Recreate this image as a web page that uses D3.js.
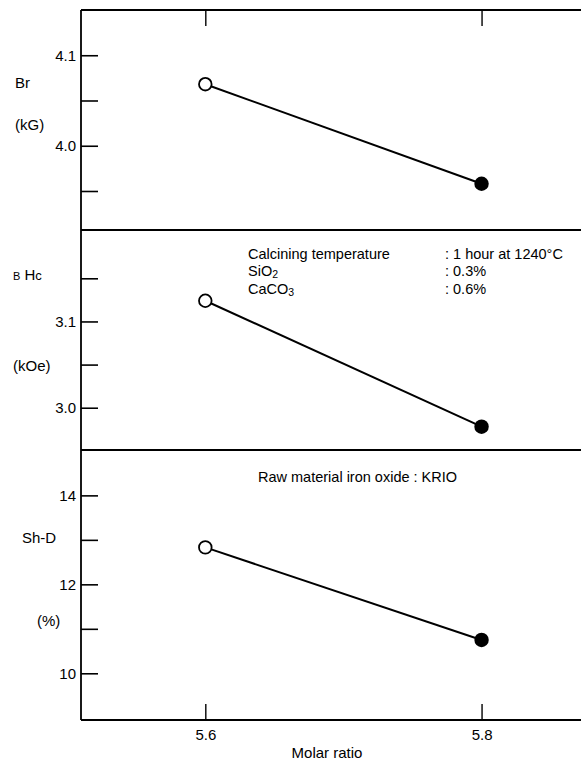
<!DOCTYPE html>
<html><head><meta charset="utf-8">
<script src="https://cdn.jsdelivr.net/npm/d3@7"></script>
<style>
body{margin:0;background:#fff;}
svg text{font-family:"Liberation Sans",Arial,Helvetica,sans-serif;fill:#000;}
</style></head>
<body><svg id="chart" width="581" height="761"></svg>
<script>
// Data
const molarRatio = [5.6, 5.8];
const brValues = [4.068, 3.958];      // Br (kG)
const hcValues = [3.124, 2.978];      // BHc (kOe)
const shdValues = [12.83, 10.75];     // Sh-D (%)
const xTicks = [5.6, 5.8];
const brTicks = [3.95, 4.0, 4.05, 4.1];
const brLabels = [4.0, 4.1];
const hcTicks = [3.0, 3.05, 3.1, 3.15];
const hcLabels = [3.0, 3.1];
const shdTicks = [10, 11, 12, 13, 14];
const shdLabels = [10, 12, 14];

const FS = 15;
const svg = d3.select("#chart");
const left = 81, right = 581;
const x = d3.scaleLinear().domain([5.51, 5.872]).range([left, right]);

const panels = [
  {values: brValues, ticks: brTicks, labels: brLabels, fmt: d3.format(".1f"), domain: [3.908, 4.15], range: [229, 10]},
  {values: hcValues, ticks: hcTicks, labels: hcLabels, fmt: d3.format(".1f"), domain: [2.951, 3.206], range: [450, 230]},
  {values: shdValues, ticks: shdTicks, labels: shdLabels, fmt: d3.format("d"), domain: [8.95, 15.02], range: [720, 450]}
];

panels.forEach(p => {
  const y = d3.scaleLinear().domain(p.domain).range(p.range);
  const ax = d3.axisLeft(y).tickValues(p.ticks).tickSizeInner(-17).tickSizeOuter(0).tickPadding(5)
    .tickFormat(d => p.labels.some(l => Math.abs(l - d) < 1e-9) ? p.fmt(d) : "");
  const g = svg.append("g").attr("transform", `translate(${left},0)`).call(ax);
  g.attr("font-size", FS).attr("font-family", '"Liberation Sans",Arial,sans-serif');
  g.select(".domain").remove();
  g.selectAll(".tick line").attr("stroke", "#000").attr("stroke-width", 1.6);
  g.selectAll(".tick text").attr("font-size", FS).attr("fill", "#000");
  const pts = molarRatio.map((m, i) => [x(m), y(p.values[i])]);
  svg.append("path").attr("d", d3.line()(pts)).attr("fill", "none").attr("stroke", "#000").attr("stroke-width", 2);
  svg.selectAll(null).data(pts).enter().append("circle")
    .attr("cx", d => d[0]).attr("cy", d => d[1]).attr("r", (d, i) => i === 0 ? 6.3 : 7.2)
    .attr("fill", (d, i) => i === 0 ? "#fff" : "#000")
    .attr("stroke", "#000").attr("stroke-width", (d, i) => i === 0 ? 1.8 : 0);
  svg.append("line").attr("x1", left).attr("x2", right).attr("y1", p.range[1]).attr("y2", p.range[1])
    .attr("stroke", "#000").attr("stroke-width", 1.8);
});

// bottom axis
const yBottom = 720;
svg.append("line").attr("x1", left).attr("x2", right).attr("y1", yBottom).attr("y2", yBottom)
  .attr("stroke", "#000").attr("stroke-width", 1.8);
svg.append("line").attr("x1", left).attr("x2", left).attr("y1", 10).attr("y2", yBottom)
  .attr("stroke", "#000").attr("stroke-width", 1.8);
const xb = svg.append("g").attr("transform", `translate(0,${yBottom})`)
  .call(d3.axisBottom(x).tickValues(xTicks).tickSizeInner(-16).tickSizeOuter(0).tickPadding(9).tickFormat(d3.format(".1f")));
xb.attr("font-size", FS).attr("font-family", '"Liberation Sans",Arial,sans-serif');
xb.select(".domain").remove();
xb.selectAll(".tick line").attr("stroke", "#000").attr("stroke-width", 1.4);
xb.selectAll(".tick text").attr("font-size", FS).attr("fill", "#000");
const xt = svg.append("g").attr("transform", `translate(0,10)`)
  .call(d3.axisTop(x).tickValues(xTicks).tickSizeInner(-16).tickSizeOuter(0).tickFormat(""));
xt.select(".domain").remove();
xt.selectAll(".tick line").attr("stroke", "#000").attr("stroke-width", 1.4);

svg.append("text").attr("x", 327).attr("y", 758).attr("text-anchor", "middle").attr("font-size", FS).text("Molar ratio");

// Y titles
const t = (xx, yy, s) => svg.append("text").attr("x", xx).attr("y", yy).attr("font-size", FS).text(s);
t(15, 88, "Br");
t(15, 130, "(kG)");
const bhc = svg.append("text").attr("x", 13).attr("y", 280).attr("font-size", FS);
bhc.append("tspan").attr("font-size", 11).text("B");
bhc.append("tspan").text(" H");
bhc.append("tspan").attr("font-size", 13).text("c");
t(13, 371, "(kOe)");
t(22, 543, "Sh-D");
t(37, 626, "(%)");

// annotations
const AF = 14.5;
const a = (xx, yy, s) => svg.append("text").attr("x", xx).attr("y", yy).attr("font-size", AF).text(s);
a(248, 259, "Calcining temperature");
a(445, 259, ": 1 hour at 1240°C");
const si = svg.append("text").attr("x", 248).attr("y", 276).attr("font-size", AF);
si.append("tspan").text("SiO");
si.append("tspan").attr("font-size", 10.5).attr("dy", 2).text("2");
a(445, 276, ": 0.3%");
const ca = svg.append("text").attr("x", 248).attr("y", 294).attr("font-size", AF);
ca.append("tspan").text("CaCO");
ca.append("tspan").attr("font-size", 10.5).attr("dy", 2).text("3");
a(445, 294, ": 0.6%");
a(258, 482, "Raw material iron oxide : KRIO");
</script></body></html>
